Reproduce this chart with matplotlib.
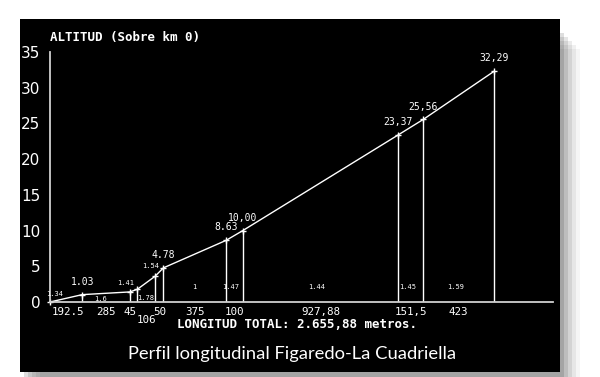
import numpy as np
import matplotlib.pyplot as plt
from matplotlib.patches import Rectangle

# tramos (m) y altitudes (m sobre km 0)
tramos = [192.5, 285, 45, 106, 50, 375, 100, 927.88, 151.5, 423]
tramo_labels = ["192.5", "285", "45", "106", "50", "375", "100", "927,88", "151,5", "423"]
altitudes = [0, 1.03, 1.41, 1.78, 3.6, 4.78, 8.63, 10.00, 23.37, 25.56, 32.29]
alt_labels = ["", "1.03", "", "", "", "4.78", "8.63", "10,00", "23,37", "25,56", "32,29"]
pendientes = ["1.34", "1.6", "1.41", "1.78", "1.54", "1", "1.47", "1.44", "1.45", "1.59"]
pend_y = [1.1, 0.4, 2.6, 0.5, 5.1, 2.1, 2.1, 2.1, 2.1, 2.1]

dist = np.concatenate([[0], np.cumsum(tramos)])
mid = (dist[:-1] + dist[1:]) / 2

fig = plt.figure(figsize=(6, 3.77), dpi=100, facecolor="white")

# sombra y fondo negro
for i, a in enumerate([0.04, 0.06, 0.08, 0.1, 0.13]):
    off = (5 - i) * 4
    fig.patches.append(Rectangle(((20 + off) / 600, 0), 540 / 600, (358 - 10 - off) / 377,
                                 transform=fig.transFigure, color="black", alpha=a, lw=0, zorder=-2))
fig.patches.append(Rectangle((20 / 600, 5 / 377), 540 / 600, 353 / 377,
                             transform=fig.transFigure, color="black", lw=0, zorder=-1))

ax = fig.add_axes([50 / 600, 75 / 377, 503 / 600, 250 / 377])
ax.set_zorder(3)
ax.set_facecolor("none")
ax.set_xlim(0, 3009)
ax.set_ylim(0, 35)
for s in ["top", "right"]:
    ax.spines[s].set_visible(False)
for s in ["left", "bottom"]:
    ax.spines[s].set_color("#d0d0d0")
    ax.spines[s].set_linewidth(1.3)
ax.set_xticks([])
ax.set_yticks(range(0, 36, 5))
ax.tick_params(axis="y", length=0, pad=7, labelcolor="white", labelsize=11)

mono = "DejaVu Sans Mono"
ax.plot(dist, altitudes, color="white", lw=1, marker="+", ms=5, mew=1, clip_on=False)
ax.vlines(dist[1:], 0, altitudes[1:], color="white", lw=1)

for x, y, t in zip(dist, altitudes, alt_labels):
    if t:
        ax.text(x, y + 1.1, t, color="white", ha="center", va="bottom", fontsize=7, family=mono)

for i, (x, t) in enumerate(zip(mid, tramo_labels)):
    dy = -1.4 if i != 3 else -2.5
    xx = x if i != 0 else 105
    if i == 2:
        xx = x - 20
    ax.text(xx, dy, t, color="white", ha="center", va="center", fontsize=7.8, family=mono, clip_on=False)

for i, (x, y, t) in enumerate(zip(mid, pend_y, pendientes)):
    xx = [30, 300, 450, 570, 600][i] if i < 5 else x - (20 if i >= 6 else 0)
    ax.text(xx, y, t, color="white", ha="center", va="center", fontsize=5, family=mono)

fig.text(50 / 600, 1 - 38 / 377, "ALTITUD (Sobre km 0)", color="white", fontsize=9,
         family=mono, weight="bold", va="center", ha="left")
fig.text(177 / 600, 1 - 325 / 377, "LONGITUD TOTAL: 2.655,88 metros.", color="white", fontsize=9,
         family=mono, weight="bold", va="center", ha="left")
fig.text(292 / 600, 1 - 354 / 377, "Perfil longitudinal Figaredo-La Cuadriella", color="white",
         fontsize=13.2, family="Lato", va="center", ha="center")

fig.savefig("out.png", dpi=100, facecolor="white")
